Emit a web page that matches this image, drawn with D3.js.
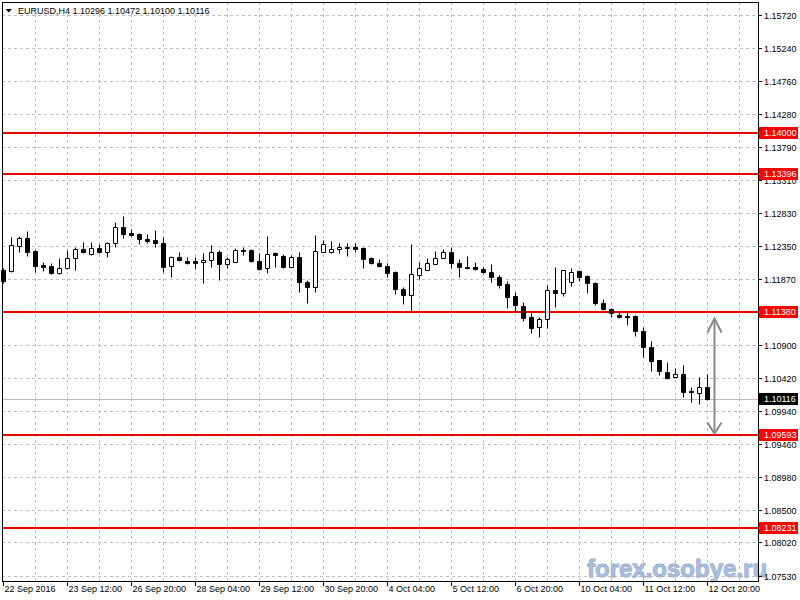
<!DOCTYPE html>
<html><head><meta charset="utf-8">
<script src="https://cdn.jsdelivr.net/npm/d3@7"></script>
<style>
body{margin:0;background:#fff}
svg{display:block}
text{font-family:"Liberation Sans",Arial,sans-serif;font-size:9px}
</style>
</head><body>
<svg id="chart" width="800" height="600"></svg>
<script>
// ---------- data ----------
const symbolTitle = "EURUSD,H4";
const lastBar = ["1.10296","1.10472","1.10100","1.10116"];

const opens = [1.11997,1.11982,1.12347,1.12464,1.12274,1.12070,1.12055,1.11953,1.12026,1.12172,
1.12304,1.12230,1.12318,1.12260,1.12391,1.12625,1.12537,1.12523,1.12450,1.12435,
1.12391,1.12055,1.12187,1.12128,1.12128,1.12114,1.12143,1.12260,1.12085,1.12114,
1.12289,1.12289,1.12128,1.12026,1.12245,1.12201,1.12040,1.12187,1.11822,1.11749,
1.12260,1.12260,1.12304,1.12333,1.12333,1.12318,1.12172,1.12099,1.12055,1.11968,
1.11720,1.11632,1.11924,1.11997,1.12085,1.12172,1.12260,1.12099,1.12040,1.12040,
1.12011,1.11968,1.11895,1.11793,1.11617,1.11471,1.11311,1.11165,1.11282,1.11705,
1.11661,1.11822,1.11982,1.11909,1.11807,1.11515,1.11428,1.11340,1.11325,1.11325,
1.11106,1.10873,1.10683,1.10508,1.10435,1.10479,1.10230,1.10201,1.10296];

const highs = [1.12026,1.12479,1.12493,1.12566,1.12289,1.12114,1.12099,1.12172,1.12289,1.12333,
1.12406,1.12406,1.12377,1.12406,1.12698,1.12785,1.12596,1.12537,1.12523,1.12581,
1.12479,1.12201,1.12260,1.12187,1.12187,1.12245,1.12362,1.12289,1.12187,1.12318,
1.12333,1.12304,1.12245,1.12493,1.12260,1.12230,1.12216,1.12260,1.11851,1.12508,
1.12435,1.12420,1.12391,1.12391,1.12391,1.12333,1.12187,1.12158,1.12099,1.11982,
1.11749,1.12377,1.12114,1.12172,1.12274,1.12304,1.12333,1.12158,1.12201,1.12114,
1.12040,1.12085,1.11924,1.11836,1.11676,1.11530,1.11369,1.11311,1.11778,1.12040,
1.11997,1.12026,1.11997,1.11924,1.11822,1.11574,1.11442,1.11398,1.11384,1.11340,
1.11165,1.10960,1.10683,1.10654,1.10566,1.10610,1.10289,1.10435,1.10472];

const lows = [1.11807,1.11968,1.12260,1.12201,1.11968,1.11982,1.11938,1.11946,1.12019,1.11997,
1.12245,1.12223,1.12245,1.12187,1.12333,1.12464,1.12493,1.12377,1.12391,1.12333,
1.11968,1.11895,1.12128,1.12085,1.12011,1.11807,1.12040,1.11851,1.12026,1.12114,
1.12216,1.12114,1.11997,1.11953,1.12040,1.12026,1.12040,1.11676,1.11515,1.11676,
1.12260,1.12245,1.12245,1.12201,1.12260,1.12026,1.12085,1.12040,1.11895,1.11647,
1.11500,1.11384,1.11866,1.11997,1.12085,1.12172,1.12026,1.11895,1.12011,1.11997,
1.11953,1.11822,1.11734,1.11442,1.11384,1.11252,1.11077,1.11019,1.11150,1.11457,
1.11617,1.11763,1.11836,1.11661,1.11486,1.11413,1.11311,1.11296,1.11194,1.11033,
1.10727,1.10522,1.10464,1.10406,1.10435,1.10143,1.10070,1.10041,1.10100];

const closes = [1.11836,1.12362,1.12464,1.12260,1.12055,1.12040,1.11953,1.12026,1.12172,1.12304,
1.12260,1.12318,1.12260,1.12391,1.12625,1.12523,1.12508,1.12450,1.12420,1.12391,
1.12040,1.12187,1.12143,1.12099,1.12099,1.12143,1.12260,1.12085,1.12158,1.12289,
1.12274,1.12128,1.12011,1.12230,1.12216,1.12040,1.12187,1.11822,1.11749,1.12274,
1.12377,1.12304,1.12333,1.12318,1.12304,1.12158,1.12099,1.12055,1.11953,1.11720,
1.11632,1.11938,1.12026,1.12099,1.12172,1.12260,1.12099,1.12040,1.12026,1.12011,
1.11968,1.11895,1.11778,1.11603,1.11486,1.11296,1.11150,1.11282,1.11705,1.11661,
1.11997,1.11968,1.11895,1.11807,1.11515,1.11428,1.11369,1.11311,1.11311,1.11106,
1.10873,1.10668,1.10522,1.10420,1.10479,1.10216,1.10216,1.10289,1.10116];

const timeLabels = ["22 Sep 2016","23 Sep 12:00","26 Sep 20:00","28 Sep 04:00","29 Sep 12:00","30 Sep 20:00",
  "4 Oct 04:00","5 Oct 12:00","6 Oct 20:00","10 Oct 04:00","11 Oct 12:00","12 Oct 20:00"];
const timeLabelBars = [0,8,16,24,32,40,48,56,64,72,80,88];

const priceTickLabels = ["1.15720","1.15240","1.14760","1.14280","1.13790","1.13310","1.12830","1.12350",
  "1.11870","1.11390","1.10900","1.10420","1.09940","1.09460","1.08980","1.08500","1.08020","1.07530"];

const levels = [1.14000,1.13396,1.11380,1.09593,1.08231];
const currentPrice = 1.10116;
const arrowTop = 1.11290, arrowBottom = 1.09610, arrowBar = 88.875;
const watermark = "forex.osobye.ru";

// ---------- layout ----------
const L = 2, T = 2, R = 758, B = 581;
const svg = d3.select("#chart");
const x = d3.scaleLinear().domain([0, 88]).range([3.5, 707.5]);
const y = d3.scaleLinear().domain([1.07457, 1.15910]).range([B, T]);
const py = v => Math.round(y(v)) + 0.5;

const gridColor = "#c0c0c0";
const levelColor = "#e80000";

// grid
const grid = svg.append("g");
grid.selectAll("line.h").data(priceTickLabels).join("line")
  .attr("x1", L).attr("x2", R)
  .attr("y1", d => py(+d)).attr("y2", d => py(+d))
  .attr("stroke", gridColor).attr("stroke-dasharray", "3,3");
grid.selectAll("line.v").data(d3.range(4, 93, 4)).join("line")
  .attr("x1", d => x(d)).attr("x2", d => x(d))
  .attr("y1", T).attr("y2", B)
  .attr("stroke", gridColor).attr("stroke-dasharray", "3,3");

// current price line
svg.append("line").attr("x1", L).attr("x2", R)
  .attr("y1", py(currentPrice)).attr("y2", py(currentPrice))
  .attr("stroke", "#bdbdbd");

// level lines
svg.selectAll("line.lvl").data(levels).join("line")
  .attr("x1", L).attr("x2", R)
  .attr("y1", d => Math.round(y(d))).attr("y2", d => Math.round(y(d)))
  .attr("stroke", levelColor).attr("stroke-width", 2);

// candles
const candles = svg.append("g").selectAll("g").data(opens.map((o, i) => ({i, o, h: highs[i], l: lows[i], c: closes[i]})))
  .join("g");
candles.append("line")
  .attr("x1", d => x(d.i)).attr("x2", d => x(d.i))
  .attr("y1", d => py(d.h)).attr("y2", d => py(d.l))
  .attr("stroke", "#000");
candles.append("path")
  .attr("d", d => {
    const t = py(Math.max(d.o, d.c)), b = py(Math.min(d.o, d.c));
    const x0 = x(d.i) - 2;
    return `M${x0},${t}h4V${b}h-4Z`;
  })
  .attr("fill", d => d.c >= d.o ? "#fff" : "#000")
  .attr("stroke", "#000");

// arrow
const ax = x(arrowBar), at = y(arrowTop), ab = y(arrowBottom);
const arrow = svg.append("g").attr("stroke", "#8a8a8a").attr("stroke-width", 2).attr("fill", "none");
arrow.append("line").attr("x1", ax).attr("x2", ax).attr("y1", at).attr("y2", ab);
arrow.append("polyline").attr("points", `${ax-7},${at+14} ${ax},${at} ${ax+7},${at+14}`);
arrow.append("polyline").attr("points", `${ax-7},${ab-11} ${ax},${ab} ${ax+7},${ab-11}`);

// margins
svg.append("rect").attr("x", R + 1).attr("y", 0).attr("width", 800 - R).attr("height", 600).attr("fill", "#fff");
svg.append("rect").attr("x", 0).attr("y", B + 1).attr("width", 800).attr("height", 600 - B).attr("fill", "#fff");

// watermark
svg.append("text").attr("x", 587).attr("y", 577)
  .style("font-size", "24px").style("font-weight", "bold")
  .attr("fill", "#a9bddb").attr("stroke", "#7b95c3").attr("stroke-width", 0.8)
  .attr("paint-order", "stroke").text(watermark);

// frame
svg.append("line").attr("x1", L + 0.5).attr("x2", L + 0.5).attr("y1", T).attr("y2", B).attr("stroke", "#000");
svg.append("line").attr("x1", L).attr("x2", R).attr("y1", T + 0.5).attr("y2", T + 0.5).attr("stroke", "#000");
svg.append("line").attr("x1", R + 0.5).attr("x2", R + 0.5).attr("y1", T).attr("y2", B + 1).attr("stroke", "#000");
svg.append("line").attr("x1", L).attr("x2", R + 1).attr("y1", B + 0.5).attr("y2", B + 0.5).attr("stroke", "#000");

// title
svg.append("rect").attr("x", 3).attr("y", 3).attr("width", 218).attr("height", 11).attr("fill", "#fff");
svg.append("path").attr("d", "M5.5,9h6.5l-3.25,3.5Z").attr("fill", "#000");
svg.append("text").attr("x", 18).attr("y", 14).attr("fill", "#000")
  .text(symbolTitle + "  " + lastBar.join(" "));

// price axis
const pa = svg.append("g");
pa.selectAll("line").data(priceTickLabels).join("line")
  .attr("x1", R).attr("x2", R + 4).attr("y1", d => py(+d)).attr("y2", d => py(+d)).attr("stroke", "#000");
pa.selectAll("text").data(priceTickLabels).join("text")
  .attr("x", R + 6).attr("y", d => py(+d)).attr("dy", "0.35em").attr("fill", "#000").text(d => d);

// level labels
const ll = svg.append("g").selectAll("g").data(levels).join("g");
ll.append("rect").attr("x", R + 1).attr("y", d => Math.round(y(d)) - 6).attr("width", 39).attr("height", 12).attr("fill", "#ff0000");
ll.append("text").attr("x", R + 6).attr("y", d => Math.round(y(d))).attr("dy", "0.35em").attr("fill", "#fff").text(d => d.toFixed(5));

// current price label
svg.append("rect").attr("x", R + 1).attr("y", Math.round(y(currentPrice)) - 6).attr("width", 39).attr("height", 12).attr("fill", "#000");
svg.append("text").attr("x", R + 6).attr("y", Math.round(y(currentPrice))).attr("dy", "0.35em").attr("fill", "#fff").text(currentPrice.toFixed(5));

// time axis
const ta = svg.append("g");
ta.selectAll("line").data(timeLabelBars).join("line")
  .attr("x1", d => x(d)).attr("x2", d => x(d)).attr("y1", B).attr("y2", B + 5).attr("stroke", "#000");
ta.selectAll("text").data(timeLabels).join("text")
  .attr("x", (d, i) => x(timeLabelBars[i]) + 1).attr("y", 592).attr("fill", "#000").text(d => d);
</script>
</body></html>
